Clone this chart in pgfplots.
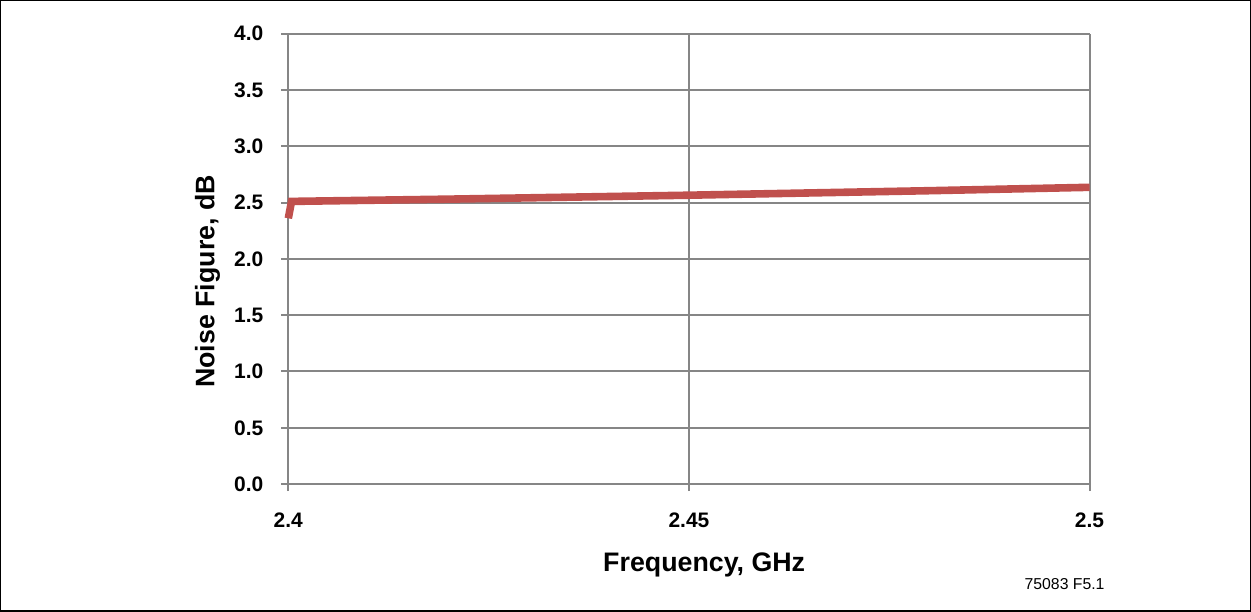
\documentclass[border=0pt]{standalone}
\usepackage{pgfplots}
\pgfplotsset{compat=1.18}
\usepackage{fontspec}
\setmainfont{Liberation Sans}
\definecolor{linered}{HTML}{C0504D}
\definecolor{gridgray}{HTML}{868686}
\begin{document}
\begin{tikzpicture}
\begin{axis}[
  name=ax,
  scale only axis,
  width=401pt, height=225.5pt,
  xmin=2.4, xmax=2.5, ymin=0, ymax=4,
  axis x line*=bottom, axis y line*=left,
  axis line style={gridgray, line width=1pt, -},
  xtick={2.4,2.45,2.5},
  xticklabels={\textbf{2.4},\textbf{2.45},\textbf{2.5}},
  ytick={0,0.5,...,4},
  yticklabel={\textbf{\pgfmathprintnumber[fixed,fixed zerofill,precision=1]{\tick}}},
  /pgf/number format/assume math mode=true,
  tick style={gridgray, line width=1pt},
  tick align=outside,
  major tick length=3.5pt,
  grid=major,
  major grid style={gridgray, line width=1pt},
  tick label style={font=\fontsize{10.5}{12}\selectfont},
  xticklabel style={yshift=-7.5pt},
  yticklabel style={xshift=-5.5pt},
  xlabel={\textbf{Frequency, GHz}},
  ylabel={\textbf{Noise Figure, dB}},
  label style={font=\fontsize{13.4}{15}\selectfont},
  xlabel style={at={(axis description cs:0.519,0)}, anchor=center, yshift=-40.5pt},
  ylabel style={at={(axis description cs:0,0.45)}, anchor=center, yshift=40.5pt},
  clip=false,
]
\addplot[linered, line width=3.8pt, line join=miter] coordinates {
  (2.4, 2.36) (2.4004, 2.51) (2.42, 2.53) (2.45, 2.565) (2.48, 2.605) (2.5, 2.635)
};
\end{axis}
\node[font=\fontsize{7.9}{9}\selectfont, anchor=center] at ([xshift=-12.5pt, yshift=-50pt]ax.south east) {75083 F5.1};
\draw[black, line width=0.6pt] ([xshift=-144pt, yshift=-63.5pt]ax.south west) rectangle ([xshift=80.5pt, yshift=16.5pt]ax.north east);
\end{tikzpicture}
\end{document}
